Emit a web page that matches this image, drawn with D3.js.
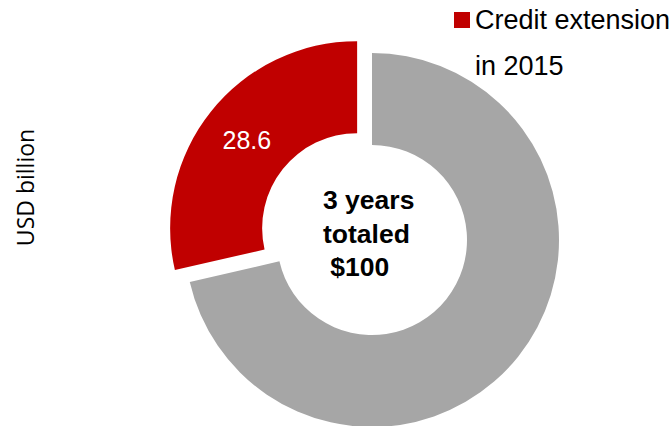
<!DOCTYPE html>
<html>
<head>
<meta charset="utf-8">
<script src="https://cdn.jsdelivr.net/npm/d3@7"></script>
<style>
  html, body { margin: 0; padding: 0; background: #fff; }
  svg { display: block; }
</style>
</head>
<body>
<script>
// Credit extension share of a three-year total (USD billion)
const categories = ["Other years", "Credit extension in 2015"];
const values = [71.4, 28.6];
const colors = ["#A6A6A6", "#C00000"];
const labelShown = [false, true];
const centerLines = ["3 years", "totaled", " $100"];
const legendLines = ["Credit extension", "in 2015"];
const axisTitle = "USD billion";

const W = 672, H = 426;
const cx = 372, cy = 240, rOuter = 187, rInner = 95, explode = 19;

const svg = d3.select("body").append("svg")
  .attr("width", W).attr("height", H);

const pie = d3.pie().sort(null).value(d => d);
const arc = d3.arc().innerRadius(rInner).outerRadius(rOuter);
const arcs = pie(values);

const g = svg.append("g").attr("transform", `translate(${cx},${cy})`);

// Offset for the highlighted slice, pushed out along its bisector
function offset(d, i) {
  if (i !== 1) return [0, 0];
  const a = (d.startAngle + d.endAngle) / 2;
  return [explode * Math.sin(a), -explode * Math.cos(a)];
}

const slices = g.selectAll("g.slice").data(arcs).join("g")
  .attr("class", "slice")
  .attr("transform", (d, i) => { const [dx, dy] = offset(d, i); return `translate(${dx},${dy})`; });

slices.append("path")
  .attr("d", arc)
  .attr("fill", (d, i) => colors[i]);

slices.filter((d, i) => labelShown[i]).append("text")
  .attr("transform", d => `translate(${arc.centroid(d)})`)
  .attr("text-anchor", "middle")
  .attr("dy", "0.36em")
  .attr("fill", "#fff")
  .style("font-family", "'Liberation Sans', Arial, sans-serif")
  .style("font-size", "25px")
  .text(d => d3.format(".1f")(d.data));

// Centre caption
const cap = svg.append("text")
  .style("font-family", "'Liberation Sans', Arial, sans-serif")
  .style("font-size", "26.5px")
  .style("font-weight", "bold")
  .style("white-space", "pre")
  .attr("fill", "#000");
centerLines.forEach((t, i) => {
  cap.append("tspan").attr("x", 323).attr("y", 209 + i * 33.5).text(t);
});

// Legend
const leg = svg.append("g");
leg.append("rect").attr("x", 454).attr("y", 12).attr("width", 16).attr("height", 16)
  .attr("fill", colors[1]);
const legText = leg.append("text")
  .style("font-family", "'Liberation Sans', Arial, sans-serif")
  .style("font-size", "27px")
  .attr("fill", "#000");
legendLines.forEach((t, i) => {
  legText.append("tspan").attr("x", 475).attr("y", 29 + i * 46).text(t);
});

// Vertical unit title
svg.append("text")
  .attr("transform", "translate(34,187.5) rotate(-90)")
  .attr("text-anchor", "middle")
  .style("font-family", "'Open Sans', sans-serif")
  .style("font-size", "23px")
  .attr("fill", "#000")
  .text(axisTitle);
</script>
</body>
</html>
